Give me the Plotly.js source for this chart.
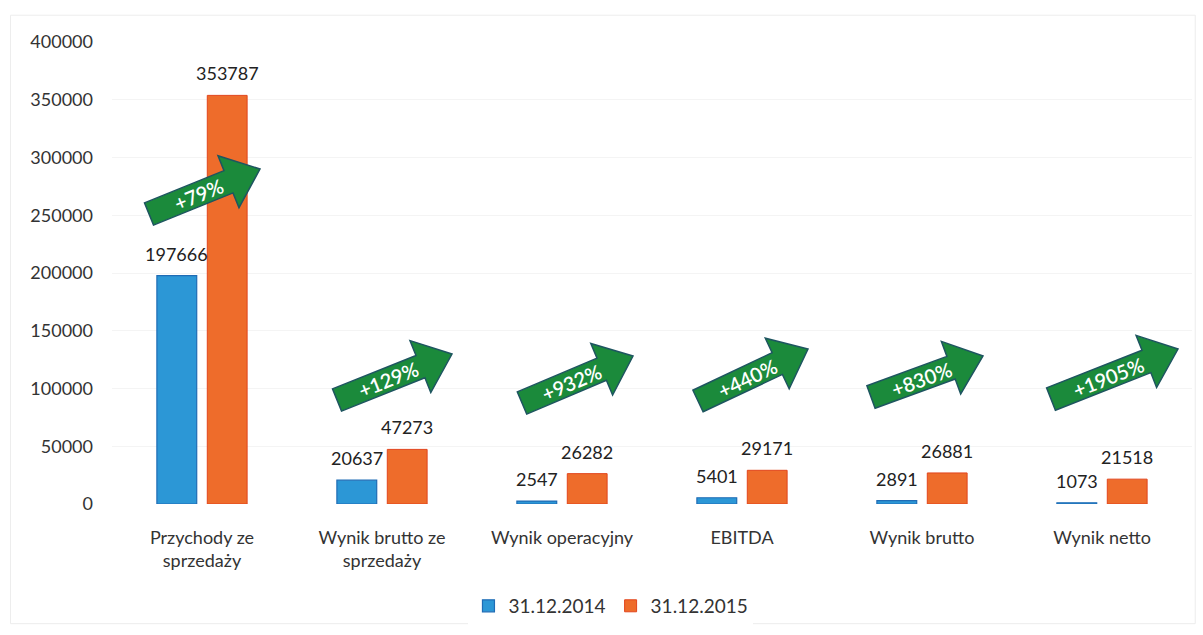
<!DOCTYPE html>
<html>
<head>
<meta charset="utf-8">
<script src="https://cdn.plot.ly/plotly-3.0.1.min.js"></script>
<style>html,body{margin:0;padding:0;background:#fff;}#chart{width:1203px;height:635px;}</style>
</head>
<body>
<div id="chart"></div>
<script>
// ---- data ----
const categories = ['Przychody ze<br>sprzedaży', 'Wynik brutto ze<br>sprzedaży', 'Wynik operacyjny', 'EBITDA', 'Wynik brutto', 'Wynik netto'];
const seriesNames = ['31.12.2014', '31.12.2015'];
const values2014 = [197666, 20637, 2547, 5401, 2891, 1073];
const values2015 = [353787, 47273, 26282, 29171, 26881, 21518];
const changeLabels = ['+79%', '+129%', '+932%', '+440%', '+830%', '+1905%'];
const yTickValues = [0, 50000, 100000, 150000, 200000, 250000, 300000, 350000, 400000];

// ---- decoration geometry (pixels relative to category centre / plot bottom) ----
const arrowGeom = [
  {tail: [-53, 290], tip: [58, 335]},
  {tail: [-45, 104], tip: [70, 150]},
  {tail: [-40, 101], tip: [71, 148]},
  {tail: [-44, 103], tip: [66, 155]},
  {tail: [-51, 107], tip: [61, 148]},
  {tail: [-51, 105], tip: [76, 155]}
];

const FONT = 'Lato, "Open Sans", sans-serif';
const blue = '#2c97d6', orange = '#ee6c2b';

function arrowPath(g) {
  const [tx, ty] = g.tail, [hx, hy] = g.tip;
  const dx = hx - tx, dy = hy - ty, L = Math.hypot(dx, dy);
  const ux = dx / L, uy = dy / L, px = -uy, py = ux;
  const bw = 12, hw = 28, hl = 34;
  const pts = [[0, -bw], [L - hl, -bw], [L - hl, -hw], [L, 0], [L - hl, hw], [L - hl, bw], [0, bw]];
  return pts.map((p, k) => (k ? 'L' : 'M') + (tx + p[0] * ux + p[1] * px).toFixed(1) + ',' + (ty + p[0] * uy + p[1] * py).toFixed(1)).join('') + 'Z';
}

const traces = [
  {type: 'bar', name: seriesNames[0], x: categories, y: values2014,
   marker: {color: blue, line: {color: '#1f6cb5', width: 1.2}}, hoverinfo: 'none'},
  {type: 'bar', name: seriesNames[1], x: categories, y: values2015,
   marker: {color: orange, line: {color: '#e2451c', width: 1}}, hoverinfo: 'none'}
];

const slot = 25.25;
const annotations = [];
const shapes = [];
categories.forEach((c, i) => {
  annotations.push({x: i, y: values2014[i], xref: 'x', yref: 'y', xshift: -slot, yshift: 9,
    text: String(values2014[i]), showarrow: false, yanchor: 'bottom', xanchor: 'center',
    font: {family: FONT, size: 18, color: '#222'}});
  annotations.push({x: i, y: values2015[i], xref: 'x', yref: 'y', xshift: slot, yshift: 9,
    text: String(values2015[i]), showarrow: false, yanchor: 'bottom', xanchor: 'center',
    font: {family: FONT, size: 18, color: '#222'}});
  const g = arrowGeom[i];
  shapes.push({type: 'path', xref: 'x', yref: 'paper', xsizemode: 'pixel', ysizemode: 'pixel',
    xanchor: i, yanchor: 0, path: arrowPath(g), fillcolor: '#1b8a3b',
    line: {color: '#1e5560', width: 1.5}, layer: 'above'});
  const dx = g.tip[0] - g.tail[0], dy = g.tip[1] - g.tail[1];
  const ang = Math.atan2(dy, dx) * 180 / Math.PI;
  annotations.push({x: i, y: 0, xref: 'x', yref: 'paper', xshift: g.tail[0] + 0.45 * dx, yshift: g.tail[1] + 0.45 * dy,
    text: changeLabels[i], showarrow: false, textangle: -ang, xanchor: 'center', yanchor: 'middle',
    font: {family: FONT, size: 20, color: '#ffffff', weight: 600}});
});

shapes.push({type: 'rect', xref: 'paper', yref: 'paper', x0: -0.094, x1: 1.003, y0: -0.259, y1: 1.058,
  line: {color: '#ededed', width: 1}, fillcolor: 'rgba(0,0,0,0)', layer: 'below'});

const layout = {
  width: 1203, height: 635,
  margin: {l: 112, r: 11, t: 42, b: 130},
  paper_bgcolor: '#ffffff', plot_bgcolor: '#ffffff',
  barmode: 'group', bargap: 0.44, bargroupgap: 0.21,
  font: {family: FONT, size: 18, color: '#333'},
  showlegend: true,
  legend: {orientation: 'h', x: 0.462, xanchor: 'center', y: -0.218, yanchor: 'middle',
    font: {family: FONT, size: 19, color: '#333'}, itemwidth: 30},
  xaxis: {type: 'category', showgrid: false, showline: false, zeroline: false, ticks: '',
    tickfont: {family: FONT, size: 18, color: '#333'}, ticklabelstandoff: 21},
  yaxis: {range: [0, 400000], tickvals: yTickValues, ticktext: yTickValues.map(String),
    showgrid: true, gridcolor: '#f4f4f4', zeroline: false, showline: false, ticks: '',
    tickfont: {family: FONT, size: 18, color: '#333'}, ticklabelstandoff: 18},
  annotations: annotations,
  shapes: shapes
};

Plotly.newPlot('chart', traces, layout, {staticPlot: true, displayModeBar: false});
</script>
</body>
</html>
